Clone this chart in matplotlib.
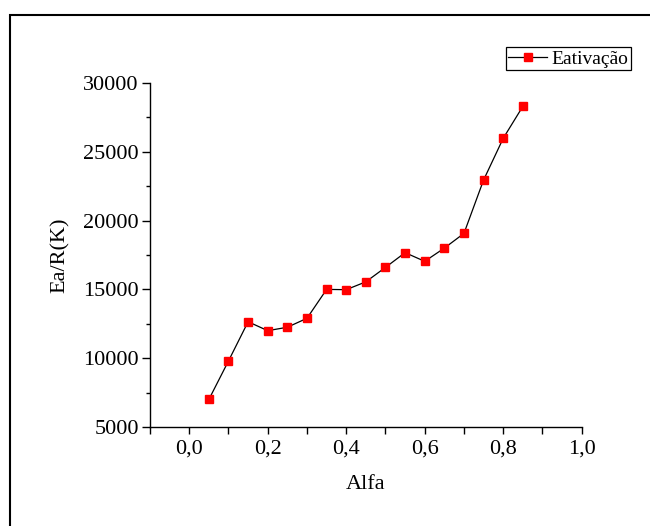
import matplotlib.pyplot as plt
from matplotlib.patches import Rectangle
from matplotlib.ticker import MultipleLocator, FuncFormatter

alfa = [0.05, 0.10, 0.15, 0.20, 0.25, 0.30, 0.35, 0.40, 0.45,
        0.50, 0.55, 0.60, 0.65, 0.70, 0.75, 0.80, 0.85]
ea_r = [7000, 9800, 12650, 12000, 12250, 12900, 15000, 14980, 15550,
        16600, 17670, 17040, 18000, 19070, 22950, 25980, 28300]

plt.rcParams['font.family'] = ['Liberation Serif', 'DejaVu Serif']

fig = plt.figure(figsize=(6.5, 5.26), dpi=100)
ax = fig.add_axes([150 / 650, 1 - 427 / 526, (581.7 - 150) / 650, (427 - 83) / 526])

# outer frame (only top and left visible in the reference)
fig.patches.append(Rectangle((10 / 650, -0.1), 1.2, 1 - 15 / 526 + 0.1,
                             transform=fig.transFigure, fill=False,
                             edgecolor='black', linewidth=1.5))

ax.plot(alfa, ea_r, color='black', linewidth=0.9, marker='s',
        markersize=6, markerfacecolor='red', markeredgecolor='red',
        label='Eativação')

ax.set_xlim(-0.1, 1.0)
ax.set_ylim(5000, 30000)
ax.xaxis.set_major_locator(MultipleLocator(0.2))
ax.xaxis.set_minor_locator(MultipleLocator(0.1))
ax.yaxis.set_major_locator(MultipleLocator(5000))
ax.yaxis.set_minor_locator(MultipleLocator(2500))
ax.xaxis.set_major_formatter(FuncFormatter(lambda v, p: f'{v:.1f}'.replace('.', ',')))

ax.spines['top'].set_visible(False)
ax.spines['right'].set_visible(False)
ax.spines['left'].set_linewidth(1.0)
ax.spines['bottom'].set_linewidth(1.0)
ax.tick_params(which='major', direction='out', length=6, width=1.0, labelsize=16)
ax.tick_params(which='minor', direction='out', length=3, width=1.0)
ax.tick_params(axis='x', which='both', length=5)
ax.tick_params(axis='x', pad=4)
ax.tick_params(axis='y', pad=2)

ax.set_xlabel('Alfa', fontsize=16, labelpad=12)
ax.set_ylabel('Ea/R(K)', fontsize=16, labelpad=10)

leg = ax.legend(loc='upper right', bbox_to_anchor=(631 / 650, 1 - 47 / 526),
                bbox_transform=fig.transFigure, borderaxespad=0,
                fontsize=14, fancybox=False, framealpha=1, edgecolor='black',
                handlelength=2.0, handletextpad=0.2, borderpad=0.15)
leg.get_frame().set_linewidth(0.9)

fig.savefig('out.png', dpi=100)
